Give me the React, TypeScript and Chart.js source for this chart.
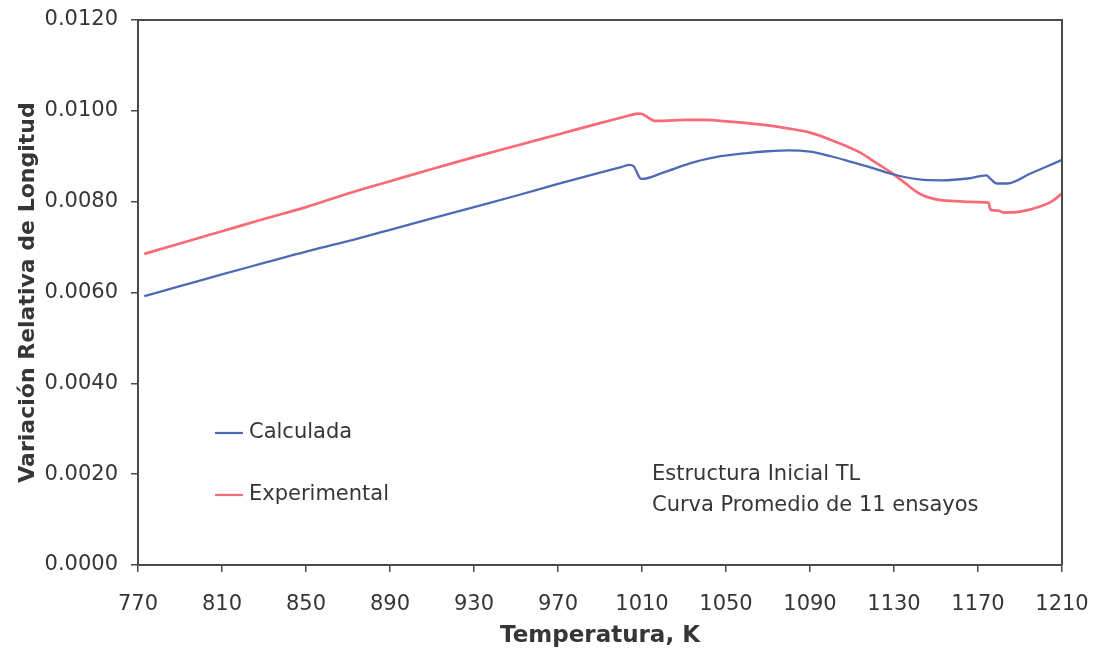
import { useEffect, useRef } from 'react';
import { Chart, registerables } from 'chart.js';

Chart.register(...registerables);

const calcTemps = [773, 790, 810, 830, 850, 870, 890, 910, 930, 950, 970, 990, 1000, 1004, 1006, 1009, 1010, 1020, 1034, 1045, 1060, 1070, 1080, 1090, 1100, 1110, 1120, 1128, 1142, 1153, 1165, 1174, 1176, 1179, 1184, 1195, 1210];
const calculada = [0.00592, 0.00614, 0.0064, 0.00665, 0.0069, 0.00713, 0.00738, 0.00763, 0.00788, 0.00813, 0.00839, 0.00864, 0.00876, 0.00881, 0.00878, 0.00852, 0.0085, 0.00864, 0.00886, 0.00898, 0.00907, 0.00911, 0.00913, 0.0091, 0.009, 0.00887, 0.00874, 0.00862, 0.00849, 0.00847, 0.00851, 0.00858, 0.0085, 0.0084, 0.0084, 0.00862, 0.00892];

const expTemps = [773, 790, 810, 830, 850, 870, 890, 910, 930, 950, 970, 990, 1000, 1005, 1008, 1010, 1013, 1016, 1020, 1030, 1040, 1050, 1060, 1070, 1080, 1090, 1100, 1114, 1120, 1128, 1135, 1142, 1150, 1160, 1170, 1175, 1176, 1180, 1182, 1190, 1200, 1205, 1210];
const experimental = [0.00685, 0.00708, 0.00735, 0.00762, 0.00788, 0.00818, 0.00845, 0.00872, 0.00898, 0.00923, 0.00948, 0.00973, 0.00985, 0.00991, 0.00994, 0.00993, 0.00985, 0.00978, 0.00978, 0.0098, 0.0098, 0.00977, 0.00973, 0.00968, 0.00961, 0.00952, 0.00936, 0.00908, 0.0089, 0.00866, 0.00842, 0.00818, 0.00805, 0.00801, 0.00799, 0.00798, 0.00782, 0.0078, 0.00776, 0.00778, 0.0079, 0.008, 0.00818];

const xTickValues = [770, 810, 850, 890, 930, 970, 1010, 1050, 1090, 1130, 1170, 1210];
const yTickValues = [0, 0.002, 0.004, 0.006, 0.008, 0.01, 0.012];

const seriesNames = ['Calculada', 'Experimental'];
const noteLines = ['Estructura Inicial TL', 'Curva Promedio de 11 ensayos'];

const BLUE = '#4d6ab4';
const RED = '#fa6a78';
const TEXT = '#363636';
const AXIS = '#4a4a4a';
const FONT = '"DejaVu Sans", "Liberation Sans", Arial, sans-serif';

const overlayPlugin = {
  id: 'overlay',
  afterDraw(chart: any) {
    const { ctx, chartArea } = chart;
    ctx.save();
    ctx.strokeStyle = AXIS;
    ctx.lineWidth = 2;
    ctx.beginPath();
    ctx.moveTo(chartArea.left, chartArea.top);
    ctx.lineTo(chartArea.right, chartArea.top);
    ctx.lineTo(chartArea.right, chartArea.bottom);
    ctx.stroke();

    // legend
    ctx.font = `21px ${FONT}`;
    ctx.textBaseline = 'middle';
    ctx.fillStyle = TEXT;
    const legendRows = [
      { name: seriesNames[0], color: BLUE, y: 433 },
      { name: seriesNames[1], color: RED, y: 495 },
    ];
    legendRows.forEach((r) => {
      ctx.strokeStyle = r.color;
      ctx.lineWidth = 2.2;
      ctx.beginPath();
      ctx.moveTo(215, r.y);
      ctx.lineTo(243, r.y);
      ctx.stroke();
      ctx.fillText(r.name, 249, r.y);
    });

    // note
    ctx.font = `21px ${FONT}`;
    ctx.fillText(noteLines[0], 652, 475);
    ctx.fillText(noteLines[1], 652, 506);
    ctx.restore();
  },
};

export default function App() {
  const ref = useRef<HTMLCanvasElement | null>(null);

  useEffect(() => {
    if (!ref.current) return;
    const chart = new Chart(ref.current, {
      type: 'line',
      data: {
        datasets: [
          {
            label: seriesNames[0],
            data: calcTemps.map((t, i) => ({ x: t, y: calculada[i] })),
            borderColor: BLUE,
            borderWidth: 2.3,
            pointRadius: 0,
            cubicInterpolationMode: 'monotone',
          },
          {
            label: seriesNames[1],
            data: expTemps.map((t, i) => ({ x: t, y: experimental[i] })),
            borderColor: RED,
            borderWidth: 2.7,
            pointRadius: 0,
            cubicInterpolationMode: 'monotone',
          },
        ],
      },
      options: {
        responsive: false,
        animation: false,
        layout: { padding: { top: 20, right: 31, bottom: 0, left: 0 } },
        plugins: { legend: { display: false }, tooltip: { enabled: false } },
        scales: {
          x: {
            type: 'linear',
            min: 770,
            max: 1210,
            afterBuildTicks: (scale: any) => {
              scale.ticks = xTickValues.map((v) => ({ value: v }));
            },
            afterFit: (scale: any) => {
              scale.height = 90;
              scale.paddingLeft = 0;
              scale.paddingRight = 0;
            },
            grid: { display: true, drawOnChartArea: false, drawTicks: true, tickLength: 7, color: AXIS, lineWidth: 1.5 },
            border: { display: true, color: AXIS, width: 2 },
            ticks: {
              padding: 20,
              color: TEXT,
              font: { family: FONT, size: 21 },
              maxRotation: 0,
              autoSkip: false,
              callback: (v: any) => String(v),
            },
            title: {
              display: true,
              text: 'Temperatura, K',
              color: TEXT,
              font: { family: FONT, size: 23, weight: 'bold' },
              padding: { top: 0, bottom: 5 },
            },
          },
          y: {
            type: 'linear',
            min: 0,
            max: 0.012,
            afterBuildTicks: (scale: any) => {
              scale.ticks = yTickValues.map((v) => ({ value: v }));
            },
            afterFit: (scale: any) => {
              scale.width = 138;
              scale.paddingTop = 0;
              scale.paddingBottom = 0;
            },
            grid: { display: true, drawOnChartArea: false, drawTicks: true, tickLength: 7, color: AXIS, lineWidth: 1.5 },
            border: { display: true, color: AXIS, width: 2 },
            ticks: {
              padding: 13,
              color: TEXT,
              font: { family: FONT, size: 21 },
              autoSkip: false,
              callback: (v: any) => Number(v).toFixed(4),
            },
            title: {
              display: true,
              text: 'Variación Relativa de Longitud',
              color: TEXT,
              font: { family: FONT, size: 22, weight: 'bold' },
              padding: { top: 15, bottom: 0 },
            },
          },
        },
      },
      plugins: [overlayPlugin],
    } as any);
    return () => chart.destroy();
  }, []);

  return (
    <div style={{ position: 'fixed', left: 0, top: 0, width: 1093, height: 655, background: '#fff' }}>
      <canvas ref={ref} width={1093} height={655} style={{ display: 'block' }} />
    </div>
  );
}
